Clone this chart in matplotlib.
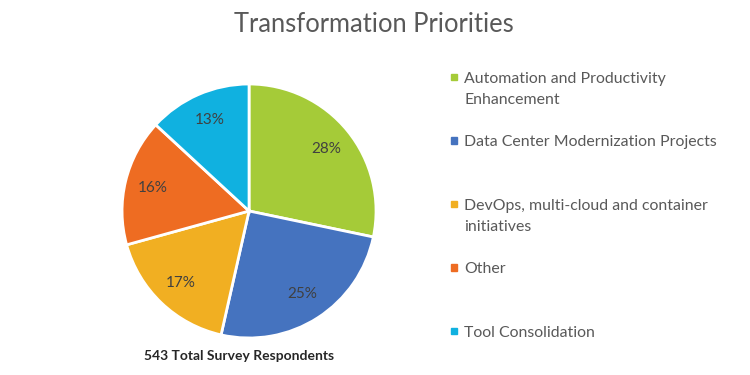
import matplotlib.pyplot as plt
from matplotlib.patches import Rectangle

plt.rcParams['font.family'] = ['Lato', 'DejaVu Sans']

TITLE = "Transformation Priorities"
FOOTNOTE = "543 Total Survey Respondents"
CATEGORIES = [
    "Automation and Productivity\nEnhancement",
    "Data Center Modernization Projects",
    "DevOps, multi-cloud and container\ninitiatives",
    "Other",
    "Tool Consolidation",
]
SHARES = [28, 25, 17, 16, 13]
COLORS = ["#A5CB38", "#4573BF", "#F1AF22", "#EE6C22", "#10B1E0"]
TEXT_GRAY = "#595959"

fig = plt.figure(figsize=(7.5, 3.75), dpi=100)
fig.patch.set_facecolor("white")

# pie area (figure fractions)
ax = fig.add_axes([0.1627, 0.0987, 0.3387, 0.6773])
wedges, texts, autotexts = ax.pie(
    SHARES, colors=COLORS, startangle=90, counterclock=False,
    autopct=lambda p: f"{p:.0f}%", pctdistance=0.78,
    wedgeprops=dict(edgecolor="white", linewidth=2),
    textprops=dict(color="#404040", fontsize=11),
)
ax.set_xlim(-1, 1)
ax.set_ylim(-1, 1)
ax.set_aspect("equal")
ax.axis("off")

fig.text(0.499, 0.935, TITLE, ha="center", va="center",
         fontsize=18.4, color=TEXT_GRAY)
fig.text(0.319, 0.05, FOOTNOTE, ha="center", va="center",
         fontsize=10, color="#262626", fontweight="bold")

# legend drawn by hand to keep Excel's even spacing
leg_top = 0.795
leg_step = 0.1693
for i, (lab, col) in enumerate(zip(CATEGORIES, COLORS)):
    y = leg_top - i * leg_step
    fig.patches.append(Rectangle((0.601, y - 0.009), 0.0085, 0.017,
                                 transform=fig.transFigure, color=col))
    fig.text(0.619, y + 0.014, lab, ha="left", va="top",
             fontsize=11.4, color=TEXT_GRAY, linespacing=1.68)

fig.savefig("out.png", dpi=100)
